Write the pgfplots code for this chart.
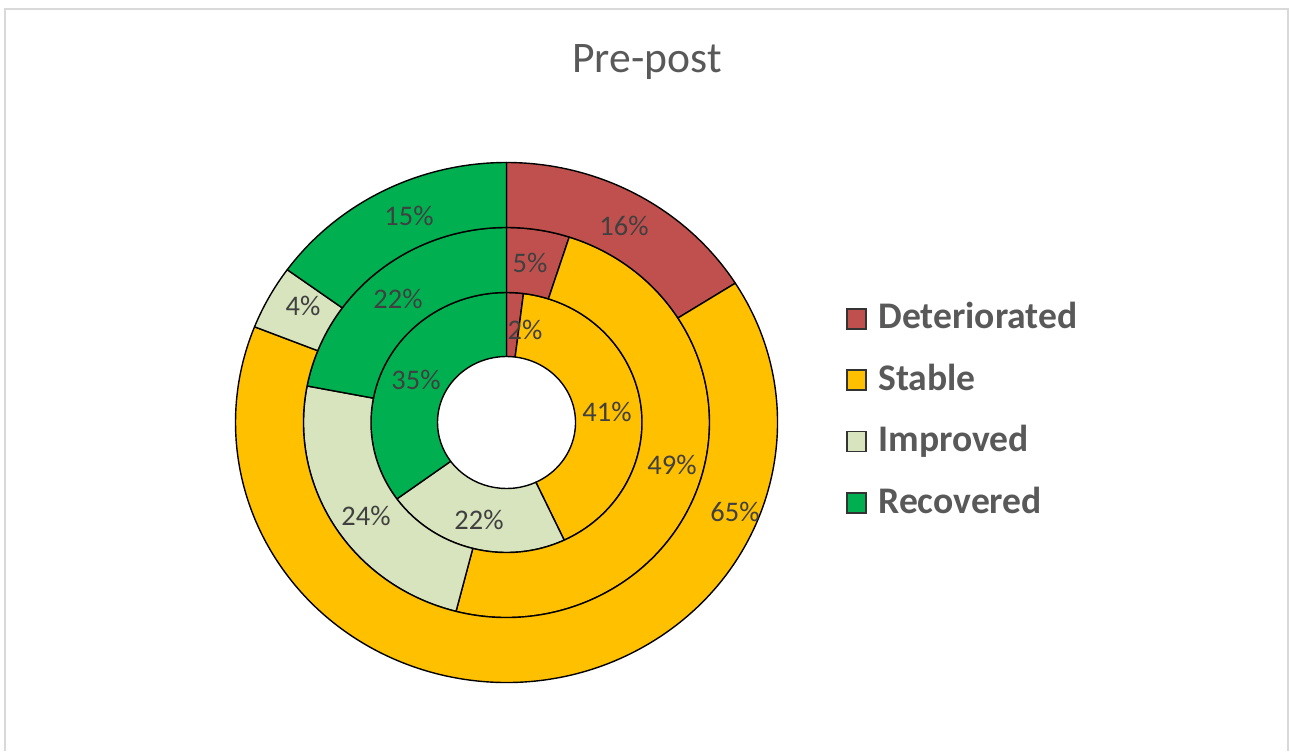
\documentclass[border=0pt]{standalone}
\usepackage{pgfplots}
\pgfplotsset{compat=1.18}
\usepackage{fontspec}
\setmainfont{Carlito}
\definecolor{cDet}{HTML}{C0504D}
\definecolor{cSta}{HTML}{FFC000}
\definecolor{cImp}{HTML}{D7E4BD}
\definecolor{cRec}{HTML}{00B050}
\definecolor{txtgray}{HTML}{595959}
\definecolor{lblgray}{HTML}{404040}
\definecolor{framegray}{HTML}{D9D9D9}
% centre of the rings (pixel units, y up)
\def\cx{506.5}
\def\cy{328.5}
% #1 start %, #2 end %, #3 inner rx, #4 inner ry, #5 outer rx, #6 outer ry, #7 colour
\newcommand{\sector}[7]{%
  \filldraw[fill=#7, draw=black, line width=0.7pt, line join=round]
    ({\cx+#5*cos(90-3.6*#1)}, {\cy+#6*sin(90-3.6*#1)})
    arc[start angle={90-3.6*#1}, end angle={90-3.6*#2}, x radius={#5*0.5pt}, y radius={#6*0.5pt}]
    -- ({\cx+#3*cos(90-3.6*#2)}, {\cy+#4*sin(90-3.6*#2)})
    arc[start angle={90-3.6*#2}, end angle={90-3.6*#1}, x radius={#3*0.5pt}, y radius={#4*0.5pt}]
    -- cycle;}
\begin{document}
\begin{tikzpicture}
\begin{axis}[
  x=0.5pt, y=0.5pt,
  xmin=0, xmax=1290, ymin=0, ymax=751,
  hide axis, clip=false,
]
\path (0,0) rectangle (1290,751);
% frame
\draw[framegray, line width=1pt] (5,0) -- (5,742.5) -- (1288,742.5) -- (1288,0);
% title
\node[anchor=base, font=\fontsize{21.8}{24}\selectfont, text=txtgray] at (647,679) {Pre-post};
% inner ring: Deteriorated 2, Stable 41, Improved 22, Recovered 35
\sector{0}{2}{69}{66}{135.5}{130}{cDet}
\sector{2}{43}{69}{66}{135.5}{130}{cSta}
\sector{43}{65}{69}{66}{135.5}{130}{cImp}
\sector{65}{100}{69}{66}{135.5}{130}{cRec}
% middle ring: 5, 49, 24, 22
\sector{0}{5}{135.5}{130}{203}{195}{cDet}
\sector{5}{54}{135.5}{130}{203}{195}{cSta}
\sector{54}{78}{135.5}{130}{203}{195}{cImp}
\sector{78}{100}{135.5}{130}{203}{195}{cRec}
% outer ring: 16, 65, 4, 15
\sector{0}{16}{203}{195}{271}{260}{cDet}
\sector{16}{81}{203}{195}{271}{260}{cSta}
\sector{81}{85}{203}{195}{271}{260}{cImp}
\sector{85}{100}{203}{195}{271}{260}{cRec}
% labels
\begin{scope}[every node/.style={font=\fontsize{14.2}{16}\selectfont, text=lblgray, inner sep=0pt}]
\node at (624,525) {16\%};
\node at (735,239) {65\%};
\node at (303,445) {4\%};
\node at (409,535) {15\%};
\node at (530,488) {5\%};
\node at (672,286) {49\%};
\node at (366,235) {24\%};
\node at (398,452) {22\%};
\node at (525,421) {2\%};
\node at (607,339) {41\%};
\node at (479,231) {22\%};
\node at (416,371) {35\%};
\end{scope}
% legend
\begin{scope}[every node/.style={anchor=base west, font=\fontsize{18.8}{21}\selectfont\bfseries, text=txtgray, inner sep=0pt}]
\filldraw[fill=cDet, draw=black!80, line width=0.6pt] (847,422) rectangle (866,442);
\node at (878,422.5) {Deteriorated};
\filldraw[fill=cSta, draw=black!80, line width=0.6pt] (847,361) rectangle (866,381);
\node at (878,361) {Stable};
\filldraw[fill=cImp, draw=black!80, line width=0.6pt] (847,299.5) rectangle (866,319.5);
\node at (878,299.5) {Improved};
\filldraw[fill=cRec, draw=black!80, line width=0.6pt] (847,238) rectangle (866,258);
\node at (878,238) {Recovered};
\end{scope}
\end{axis}
\end{tikzpicture}
\end{document}
